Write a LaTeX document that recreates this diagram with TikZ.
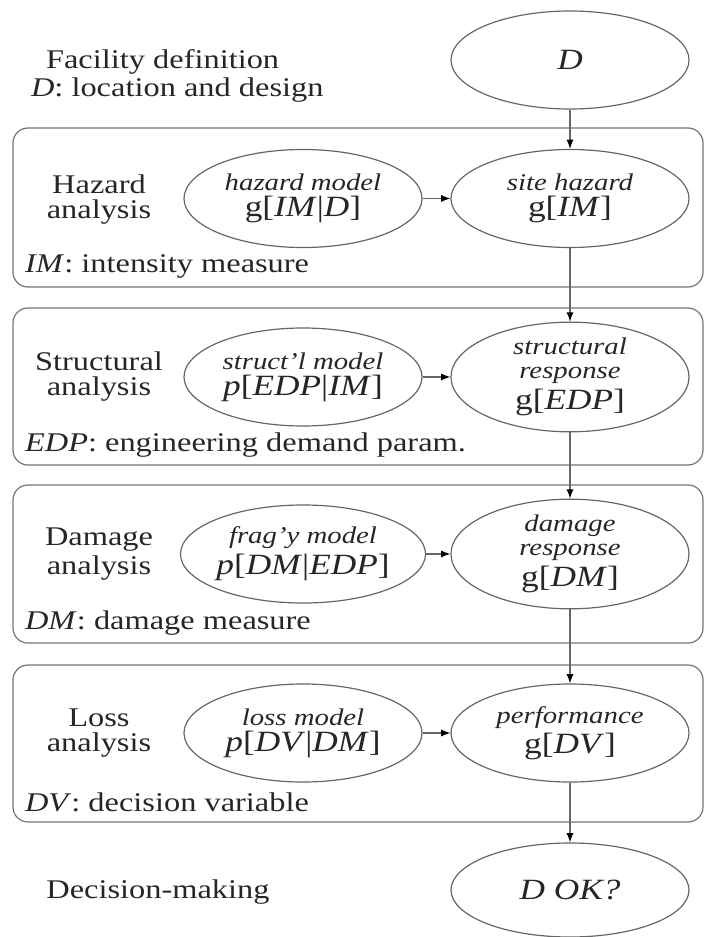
\documentclass[tikz,border=0pt]{standalone}
\usepackage{fontspec}
\setmainfont{Liberation Serif}[FakeStretch=1.2]
\usetikzlibrary{shapes.geometric}
\usetikzlibrary{arrows}
\usetikzlibrary{positioning}

\newcommand{\modelname}[1]{{\fontsize{12}{12}\selectfont\itshape #1}}
\newcommand{\distr}[1]{{\fontsize{14.7}{14}\selectfont #1}}

\begin{document}
\begin{tikzpicture}[x=1pt,y=1pt]
        \tikzset{
          >=latex,
          node distance=133.5pt,
          every node/.style={
            text=black!85,
            font=\fontsize{13.5}{11.5}\selectfont,
          },
          model/.style={
            ellipse,
            draw=black!60,
            line width=0.6pt,
            inner sep=0pt,
            minimum width=119pt,
            minimum height=49pt,
            align=center,
          },
          stagebox/.style={
            draw=black!55,
            line width=0.6pt,
            rounded corners=7.5pt,
          },
          link/.style={
            ->,
            draw=black!60,
            line width=0.6pt,
          },
          stagename/.style={align=center},
          measure/.style={anchor=west},
        }
        \useasboundingbox (0,0) rectangle (353,-468.5);

        % analysis stages
        \draw[stagebox] (6.5,-64) rectangle (351.5,-143.5);
        \draw[stagebox] (6.5,-154) rectangle (351.5,-232.5);
        \draw[stagebox] (6.5,-242.5) rectangle (351.5,-321.5);
        \draw[stagebox] (6.5,-332.5) rectangle (351.5,-411);

        % right column
        \node[model] (d) at (285,-30) {\distr{\textit{D}}};
        \node[model] (site) at (285,-99.25) {\modelname{site hazard}\\[1.5pt]\distr{g[\textit{IM}]}};
        \node[model] (resp) at (285,-188.5) {\modelname{structural}\\[0.5pt]\modelname{response}\\[1.5pt]\distr{g[\textit{EDP}]}};
        \node[model] (dmg) at (285,-277) {\modelname{damage}\\[0.5pt]\modelname{response}\\[1.5pt]\distr{g[\textit{DM}]}};
        \node[model] (perf) at (285,-366.5) {\modelname{performance}\\[1.5pt]\distr{g[\textit{DV}]}};
        \node[model, minimum height=47pt] (ok) at (285,-445) {\distr{\textit{D OK?}}};

        % models
        \node[model, left of=site] (hazmod) {\modelname{hazard model}\\[1.5pt]\distr{g[\textit{IM}|\textit{D}]}};
        \node[model, left of=resp] (strmod) {\modelname{struct'l model}\\[1.5pt]\distr{\textit{p}[\textit{EDP}|\textit{IM}]}};
        \node[model, left of=dmg] (fragmod) {\modelname{frag'y model}\\[1.5pt]\distr{\textit{p}[\textit{DM}|\textit{EDP}]}};
        \node[model, left of=perf] (lossmod) {\modelname{loss model}\\[1.5pt]\distr{\textit{p}[\textit{DV}|\textit{DM}]}};

        % labels
        \node[measure] (fac) at (19.5,-31) {Facility definition};
        \node[measure] (facd) at (12,-45) {\textit{D}: location and design};
        \node[stagename] (haz) at (49.5,-100) {Hazard\\[1pt]analysis};
        \node[stagename] (str) at (49.5,-188.5) {Structural\\[1pt]analysis};
        \node[stagename] (dam) at (49.5,-277) {Damage\\[1pt]analysis};
        \node[stagename] (los) at (49.5,-366.5) {Loss\\[1pt]analysis};
        \node[measure] (im) at (9,-133) {\textit{IM}: intensity measure};
        \node[measure] (edp) at (9,-222.5) {\textit{EDP}: engineering demand param.};
        \node[measure] (dm) at (9,-311.5) {\textit{DM}: damage measure};
        \node[measure] (dv) at (9,-401) {\textit{DV}: decision variable};
        \node (dec) at (79,-446) {Decision-making};

        \draw[link]
          (d) edge (site)
          (site) edge (resp)
          (resp) edge (dmg)
          (dmg) edge (perf)
          (perf) edge (ok)
          (hazmod) edge (site)
          (strmod) edge (resp)
          (fragmod) edge (dmg)
          (lossmod) edge (perf);
\end{tikzpicture}
\end{document}
